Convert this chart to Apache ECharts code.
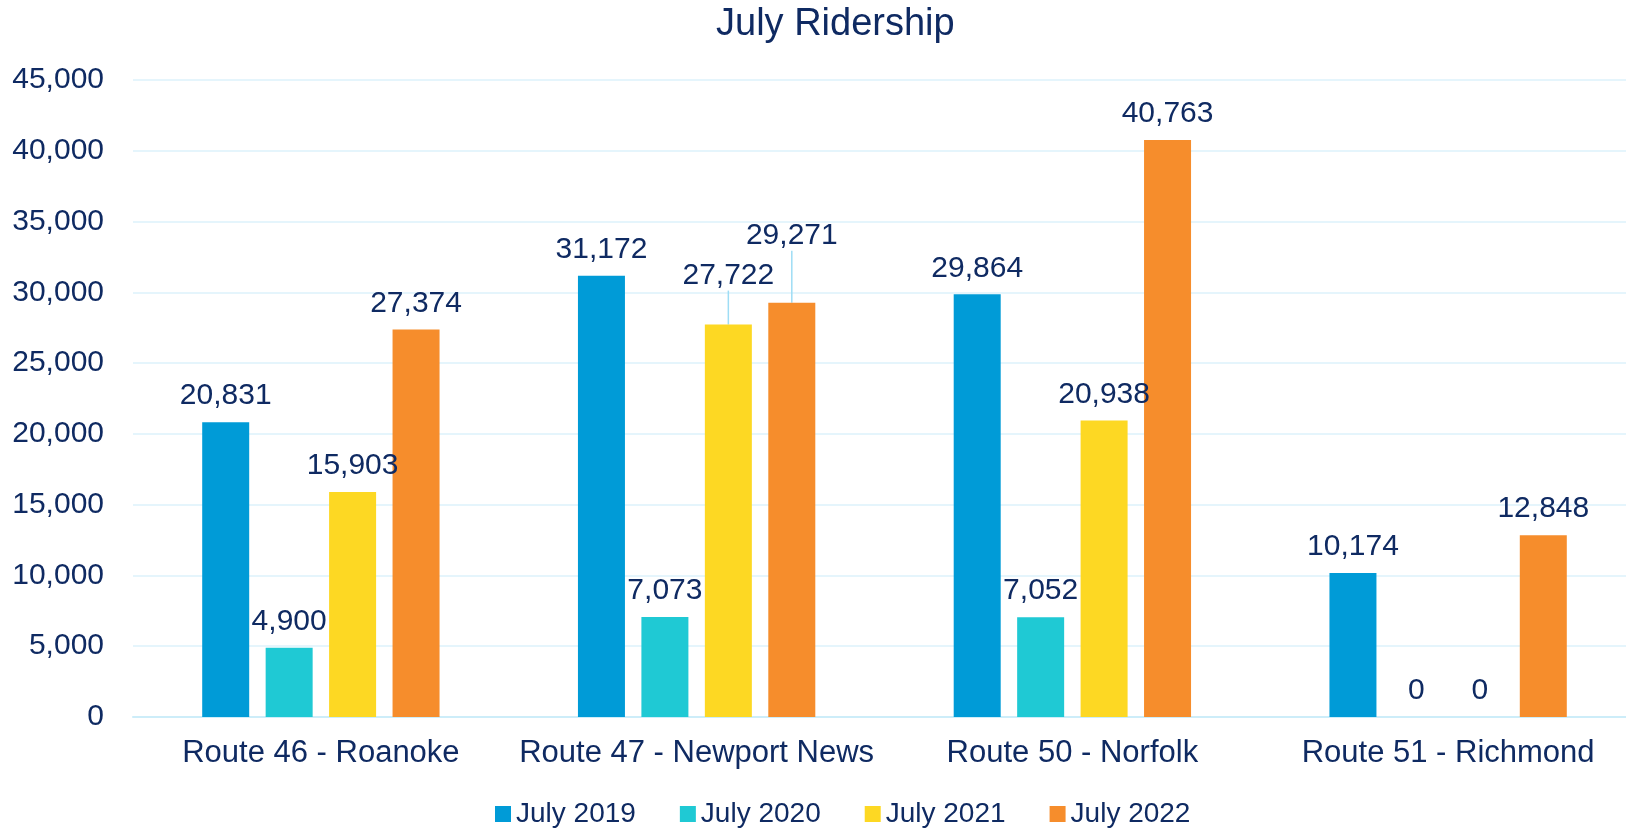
<!DOCTYPE html>
<html>
<head>
<meta charset="utf-8">
<script src="https://cdn.jsdelivr.net/npm/echarts@6/dist/echarts.min.js"></script>
<style>
html,body{margin:0;padding:0;background:#fff;overflow:hidden;}
#chart{width:1636px;height:831px;}
</style>
</head>
<body>
<div id="chart"></div>
<script>
const categories = ['Route 46 - Roanoke', 'Route 47 - Newport News', 'Route 50 - Norfolk', 'Route 51 - Richmond'];
const seriesNames = ['July 2019', 'July 2020', 'July 2021', 'July 2022'];
const july2019 = [20831, 31172, 29864, 10174];
const july2020 = [4900, 7073, 7052, 0];
const july2021 = [15903, 27722, 20938, 0];
const july2022 = [27374, 29271, 40763, 12848];
const yTicks = [0, 5000, 10000, 15000, 20000, 25000, 30000, 35000, 40000, 45000];

const colors = ['#009BD7', '#1FC9D4', '#FDD823', '#F68D2C'];
const textColor = '#0F2A62';
const font = 'Liberation Sans';
// labels lifted with leader lines: [seriesIndex, dataIndex, dy]
const lifted = [[2, 1, -23], [3, 1, -41]];

const allValues = [july2019, july2020, july2021, july2022];
const series = allValues.map((vals, si) => ({
  name: seriesNames[si],
  type: 'bar',
  barWidth: 47,
  barGap: '35%',
  itemStyle: { color: colors[si] },
  label: {
    show: true,
    position: 'top',
    distance: 11,
    color: textColor,
    fontFamily: font,
    fontSize: 30,
    formatter: p => p.value.toLocaleString('en-US')
  },
  labelLine: { show: false, lineStyle: { color: '#9EDDF5', width: 1.5 } },
  labelLayout: function (params) {
    for (const l of lifted) {
      if (l[0] === params.seriesIndex && l[1] === params.dataIndex) return { dy: l[2] };
    }
    return {};
  },
  data: vals.map((v, di) => {
    const isLifted = lifted.some(l => l[0] === si && l[1] === di);
    return isLifted ? { value: v, labelLine: { show: true, lineStyle: { color: '#9EDDF5', width: 1.5 } } } : v;
  })
}));

const chart = echarts.init(document.getElementById('chart'));
chart.setOption({
  animation: false,
  backgroundColor: '#ffffff',
  title: {
    text: 'July Ridership',
    left: 711,
    top: 1,
    textStyle: { color: textColor, fontFamily: font, fontSize: 38, fontWeight: 'normal' }
  },
  legend: {
    data: seriesNames,
    left: 490,
    top: 795,
    icon: 'rect',
    itemWidth: 16,
    itemHeight: 16,
    itemGap: 44,
    textStyle: { color: textColor, fontFamily: font, fontSize: 28 }
  },
  grid: { left: 133, right: 0, top: 80, bottom: 114, containLabel: false },
  xAxis: {
    type: 'category',
    data: categories,
    axisLine: { lineStyle: { color: '#CDEDF9', width: 2 } },
    axisTick: { show: false },
    axisLabel: { interval: 0, color: textColor, fontFamily: font, fontSize: 31, margin: 21 }
  },
  yAxis: {
    type: 'value',
    min: yTicks[0],
    max: yTicks[yTicks.length - 1],
    interval: yTicks[1] - yTicks[0],
    axisLine: { show: false },
    axisTick: { show: false },
    splitLine: { lineStyle: { color: '#DDF2FB', width: 1.5 } },
    axisLabel: {
      color: textColor, fontFamily: font, fontSize: 30, margin: 29,
      formatter: v => v.toLocaleString('en-US')
    }
  },
  series: series
});
</script>
</body>
</html>
